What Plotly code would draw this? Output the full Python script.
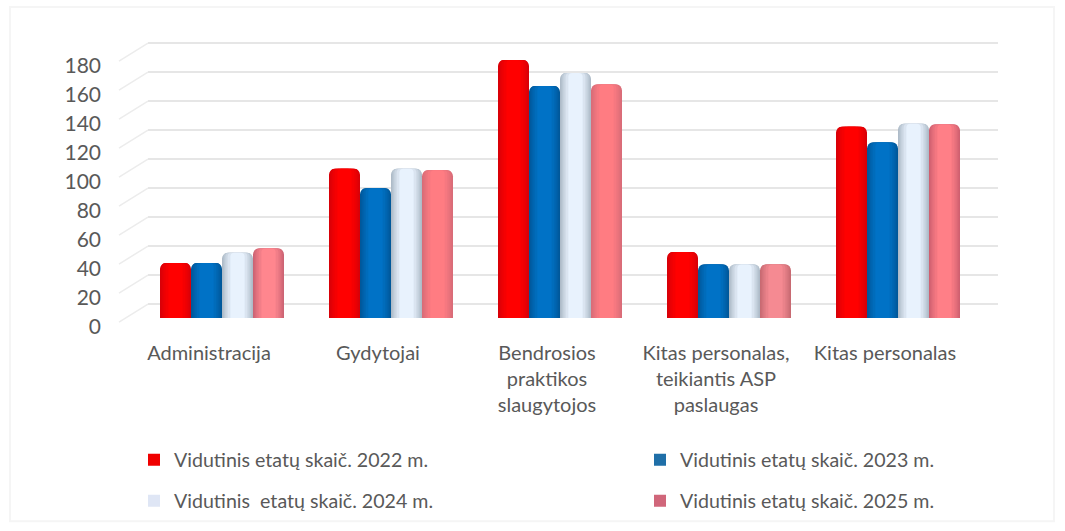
import plotly.graph_objects as go

categories = ["Administracija", "Gydytojai", "Bendrosios<br>praktikos<br>slaugytojos",
              "Kitas personalas,<br>teikiantis ASP<br>paslaugas", "Kitas personalas"]
v2022 = [38, 103, 178, 45.5, 132]
v2023 = [38, 89.5, 160, 37, 121]
v2024 = [45, 103, 169, 37, 134]
v2025 = [48, 102, 161, 37, 133.5]
names = ["Vidutinis etatų skaič. 2022 m.", "Vidutinis etatų skaič. 2023 m.",
         "Vidutinis  etatų skaič. 2024 m.", "Vidutinis etatų skaič. 2025 m."]
ticks = list(range(0, 181, 20))

W, H = 1065, 531
L, R, T, B = 148, 998, 38, 335
PPU = 1.455           # pixels per value unit
BASE_FRONT = 319      # bar base pixel
BASE_BACK = 305       # back wall zero pixel
BAR_STEP = 169
CENTER0 = 222
BAR_W = 31 / BAR_STEP
FONT = "Lato"
TXT = "#595959"

def val_range(base):
    return [(base - B) / PPU, (base - T) / PPU]

def px(x):
    return (x - L) / (R - L)

def py(y):
    return (B - y) / (B - T)

def mix(a, b, t):
    ca = [int(a[i:i + 2], 16) for i in (1, 3, 5)]
    cb = [int(b[i:i + 2], 16) for i in (1, 3, 5)]
    return "#" + "".join(f"{round(x + (y - x) * t):02x}" for x, y in zip(ca, cb))

# name, values, edge colour, centre colour, legend swatch, legend id, legend pixel position
series = [
    (names[0], v2022, ["#d80008"] * 5, ["#ff0000"] * 5, "#f00000", "legend", (134, 460)),
    (names[1], v2023, ["#00589a"] * 5, ["#0072c6"] * 5, "#1f6fa8", "legend2", (640, 460)),
    (names[2], v2024, ["#aebbc8"] * 5, ["#e8f2fd"] * 5, "#dfe6f5", "legend3", (134, 501)),
    (names[3], v2025, ["#cc6474", "#d96c78", "#d96c78", "#c86a72", "#cf6070"],
     ["#ff868e", "#ff7c82", "#ff7c82", "#f58a92", "#ff7f87"], "#d0667a", "legend4", (640, 501)),
]
FRACS = [1.0, 0.9, 0.78, 0.64, 0.46]

fig = go.Figure()
xs = list(range(len(categories)))

# back-wall gridlines (secondary axis, invisible carrier trace)
fig.add_trace(go.Scatter(x=[0], y=[0], yaxis="y2", mode="markers",
                         marker=dict(opacity=0), showlegend=False, hoverinfo="skip"))

for i, (name, vals, edge, centre, swatch, leg, _) in enumerate(series):
    off = (-2 + i) * BAR_W
    for k, frac in enumerate(FRACS):
        t = k / (len(FRACS) - 1)
        fig.add_trace(go.Bar(
            x=xs, y=vals, name=name, showlegend=False,
            width=BAR_W * frac, offset=off + BAR_W * (1 - frac) / 2,
            marker=dict(color=[mix(e, c, t) for e, c in zip(edge, centre)], line_width=0,
                        cornerradius=6 if k == 0 else 4),
            hoverinfo="skip" if k else None,
        ))
    fig.add_trace(go.Bar(x=[None], y=[None], name=name, legend=leg, showlegend=True,
                         marker=dict(color=swatch, line_width=0)))

layout_legends = {}
for (name, vals, edge, centre, swatch, leg, pos) in series:
    layout_legends[leg] = dict(
        x=px(pos[0]), y=py(pos[1]), xanchor="left", yanchor="middle",
        bgcolor="rgba(0,0,0,0)", font=dict(family=FONT, size=19.6, color=TXT),
        itemwidth=30, traceorder="normal",
    )

shapes = []
for t in ticks:
    shapes.append(dict(type="line", xref="x domain", yref="y",
                       x0=(119 - L) / (R - L), x1=0,
                       y0=t + (BASE_FRONT - 323) / PPU,
                       y1=t + (BASE_FRONT - BASE_BACK) / PPU,
                       line=dict(color="#ececec", width=1.5), layer="below"))
shapes.append(dict(type="rect", xref="paper", yref="paper",
                   x0=px(10), x1=px(1054), y0=py(7), y1=py(523),
                   line=dict(color="#f5f5f5", width=2), layer="below"))

fig.update_layout(
    width=W, height=H, autosize=False,
    margin=dict(l=L, r=W - R, t=T, b=H - B, pad=0),
    paper_bgcolor="white", plot_bgcolor="rgba(0,0,0,0)",
    barmode="overlay", showlegend=True,
    font=dict(family=FONT, size=18, color=TXT),
    xaxis=dict(tickmode="array", tickvals=xs, ticktext=categories,
               range=[(L - CENTER0) / BAR_STEP, (R - CENTER0) / BAR_STEP],
               showgrid=False, zeroline=False, showline=False, ticks="",
               ticklabelshift=-13, ticklabelstandoff=5, tickfont=dict(size=20, family=FONT, color=TXT)),
    yaxis=dict(range=val_range(BASE_FRONT), tickmode="array", tickvals=ticks,
               showgrid=False, zeroline=False, showline=False, ticks="",
               ticklabelshift=9, ticklabelstandoff=46, tickfont=dict(size=21, family=FONT, color=TXT)),
    yaxis2=dict(range=val_range(BASE_BACK), overlaying="y", side="right", tickmode="array",
                tickvals=ticks, showticklabels=False, showgrid=True, gridcolor="#e6e6e6",
                gridwidth=1.5, zeroline=False, showline=False, ticks="", layer="below traces"),
    shapes=shapes,
    **layout_legends,
)
fig.write_html("out.html", config={"displayModeBar": False},
               post_script="document.body.style.margin='0';document.body.style.overflow='hidden';")
